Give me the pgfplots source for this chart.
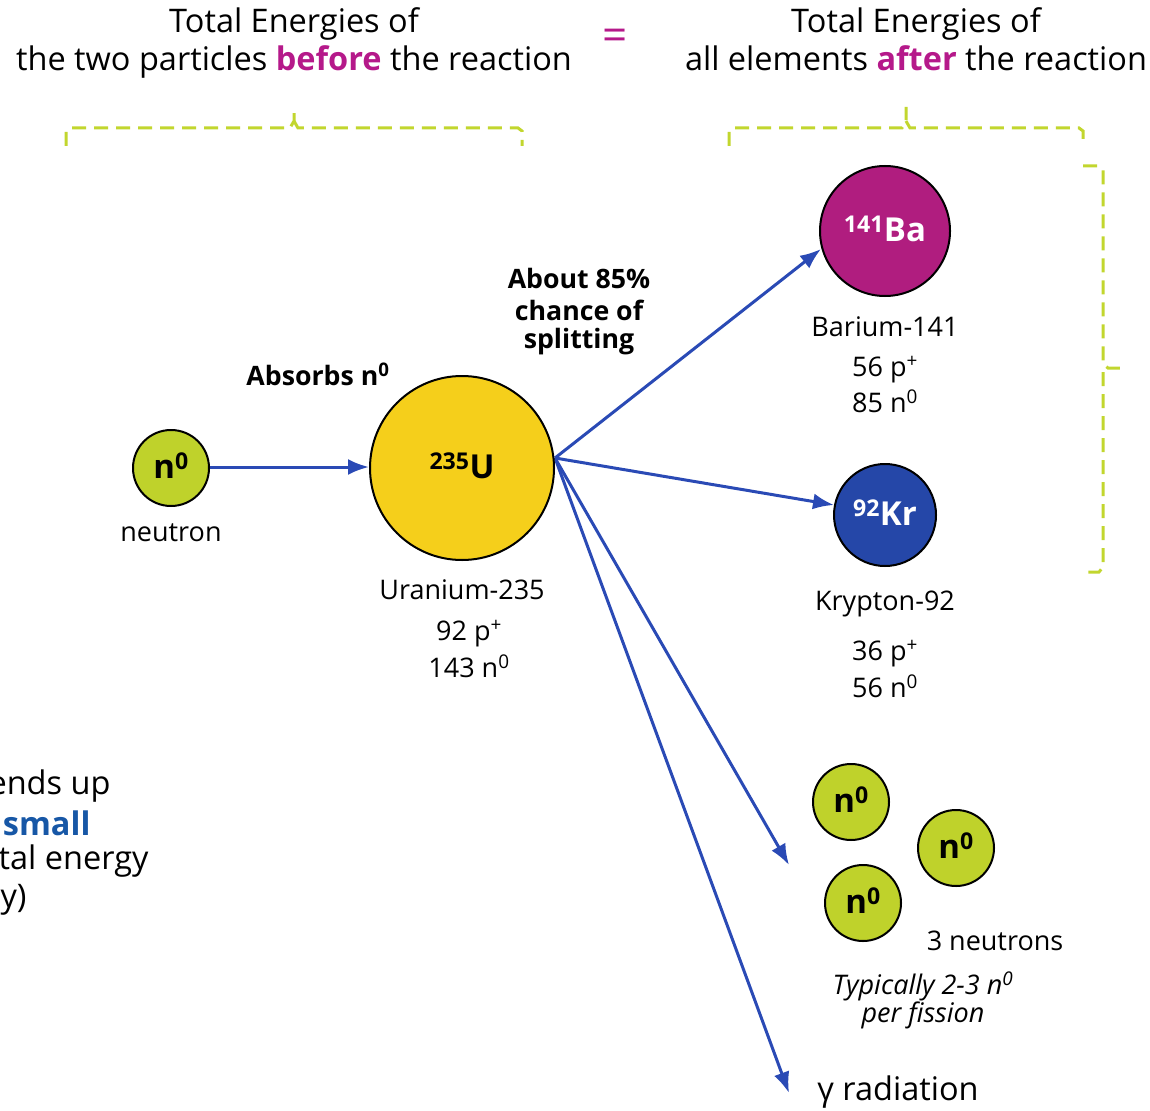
\documentclass[border=0pt]{standalone}
\usepackage{pgfplots}
\pgfplotsset{compat=1.18}
\usepackage{fontspec}
\setmainfont{Open Sans}
\usetikzlibrary{arrows.meta}
\definecolor{ngreen}{HTML}{BFD22B}
\definecolor{bgreen}{HTML}{C2D62E}
\definecolor{uyellow}{HTML}{F5CF1B}
\definecolor{bamag}{HTML}{B01D7F}
\definecolor{tmag}{HTML}{B5198A}
\definecolor{krblue}{HTML}{2547A8}
\definecolor{arblue}{HTML}{2A4AB5}
\definecolor{sblue}{HTML}{1757A6}
\newcommand{\fT}{\fontsize{32.5}{36}\selectfont}
\newcommand{\fL}{\fontsize{27}{30}\selectfont}
\newcommand{\fB}{\fontsize{26.7}{30}\selectfont\bfseries}
\newcommand{\fC}{\fontsize{33}{34}\selectfont\bfseries}
\begin{document}
\begin{tikzpicture}
\begin{axis}[
  width=1150pt, height=1110pt, scale only axis,
  xmin=0, xmax=1150, ymin=0, ymax=1110, y dir=reverse,
  hide axis, clip=true,
  circ/.style={only marks, mark=*, point meta=explicit symbolic,
    nodes near coords, nodes near coords align=center,
    every node near coord/.append style={anchor=center, font=\fC, yshift=2pt}},
]
% brackets
\addplot[bgreen, line width=3pt, dash pattern=on 14pt off 8pt] coordinates {(66,146) (66,131) (70,128) (290,128) (294,121) (294,109)};
\addplot[bgreen, line width=3pt, dash pattern=on 14pt off 8pt] coordinates {(294,121) (298,128) (518,128) (522,131) (522,146)};
\addplot[bgreen, line width=3pt, dash pattern=on 14pt off 8pt] coordinates {(729,146) (729,131) (733,128) (902,128) (906,121) (906,107)};
\addplot[bgreen, line width=3pt, dash pattern=on 14pt off 8pt] coordinates {(906,121) (910,128) (1079,128) (1083,131) (1083,146)};
\addplot[bgreen, line width=3pt, dash pattern=on 14pt off 8pt] coordinates {(1083,166) (1099,166) (1103,170) (1103,364) (1108,368) (1121,368)};
\addplot[bgreen, line width=3pt, dash pattern=on 14pt off 8pt] coordinates {(1103,372) (1103,567) (1099,572) (1083,572)};
% arrows
\addplot[arblue, line width=3pt, -{Latex[length=21pt,width=16pt]}] coordinates {(209,467) (369,467)};
\addplot[arblue, line width=3pt, -{Latex[length=21pt,width=16pt]}] coordinates {(555,458) (821,249)};
\addplot[arblue, line width=3pt, -{Latex[length=21pt,width=16pt]}] coordinates {(555,458) (834,505)};
\addplot[arblue, line width=3pt, -{Latex[length=21pt,width=16pt]}] coordinates {(555,458) (789,865)};
\addplot[arblue, line width=3pt, -{Latex[length=21pt,width=16pt]}] coordinates {(555,458) (789,1093)};
% circles
\addplot[circ, mark size=38, mark options={fill=ngreen, draw=black, line width=2pt}] coordinates {(171,468)[n\textsuperscript{0}] (851,802)[n\textsuperscript{0}] (956,848)[n\textsuperscript{0}] (863,903)[n\textsuperscript{0}]};
\addplot[circ, mark size=92, mark options={fill=uyellow, draw=black, line width=2pt}] coordinates {(462,468)[\textsuperscript{235}U]};
\addplot[circ, mark size=65, mark options={fill=bamag, draw=black, line width=2pt},
  every node near coord/.append style={text=white}] coordinates {(885,231)[\textsuperscript{141}Ba]};
\addplot[circ, mark size=51, mark options={fill=krblue, draw=black, line width=2pt},
  every node near coord/.append style={text=white}] coordinates {(885,515)[\textsuperscript{92}Kr]};
% titles
\node[font=\fT, anchor=base] at (axis cs:294,33) {Total Energies of};
\node[font=\fT, anchor=base] at (axis cs:294,71) {the two particles \textbf{\color{tmag}before} the reaction};
\node[font=\fontsize{44}{44}\selectfont, text=tmag] at (axis cs:615,40) {=};
\node[font=\fT, anchor=base] at (axis cs:916,33) {Total Energies of};
\node[font=\fT, anchor=base] at (axis cs:916,71) {all elements \textbf{\color{tmag}after} the reaction};
% other labels
\node[font=\fL] at (axis cs:171,533) {neutron};
\node[font=\fB] at (axis cs:318,374) {Absorbs n\textsuperscript{0}};
\node[font=\fB] at (axis cs:579,278) {About 85\%};
\node[font=\fB] at (axis cs:579,310) {chance of};
\node[font=\fB] at (axis cs:579,342) {splitting};
\node[font=\fL] at (axis cs:462,590) {Uranium-235};
\node[font=\fL] at (axis cs:469,634) {92 p\textsuperscript{+}};
\node[font=\fL] at (axis cs:469,666) {143 n\textsuperscript{0}};
\node[font=\fL] at (axis cs:885,327) {Barium-141};
\node[font=\fL] at (axis cs:885,370) {56 p\textsuperscript{+}};
\node[font=\fL] at (axis cs:885,401) {85 n\textsuperscript{0}};
\node[font=\fL] at (axis cs:885,604) {Krypton-92};
\node[font=\fL] at (axis cs:885,654) {36 p\textsuperscript{+}};
\node[font=\fL] at (axis cs:885,686) {56 n\textsuperscript{0}};
\node[font=\fL] at (axis cs:995,941) {3 neutrons};
\node[font=\fL\itshape] at (axis cs:923,986) {Typically 2-3 n\textsuperscript{0}};
\node[font=\fL\itshape] at (axis cs:923,1015) {per fission};
\node[font=\fT] at (axis cs:898,1092) {γ radiation};
% left cut text
\node[font=\fT, anchor=east] at (axis cs:114,786) {energy that ends up};
\node[font=\fT\bfseries, anchor=east, text=sblue] at (axis cs:94,823) {a small};
\node[font=\fT, anchor=east] at (axis cs:152,861) {of the total energy};
\node[font=\fT, anchor=east] at (axis cs:30,900) {(energy)};
\end{axis}
\pgfresetboundingbox
\path (current axis.south west) rectangle (current axis.north east);
\end{tikzpicture}
\end{document}
